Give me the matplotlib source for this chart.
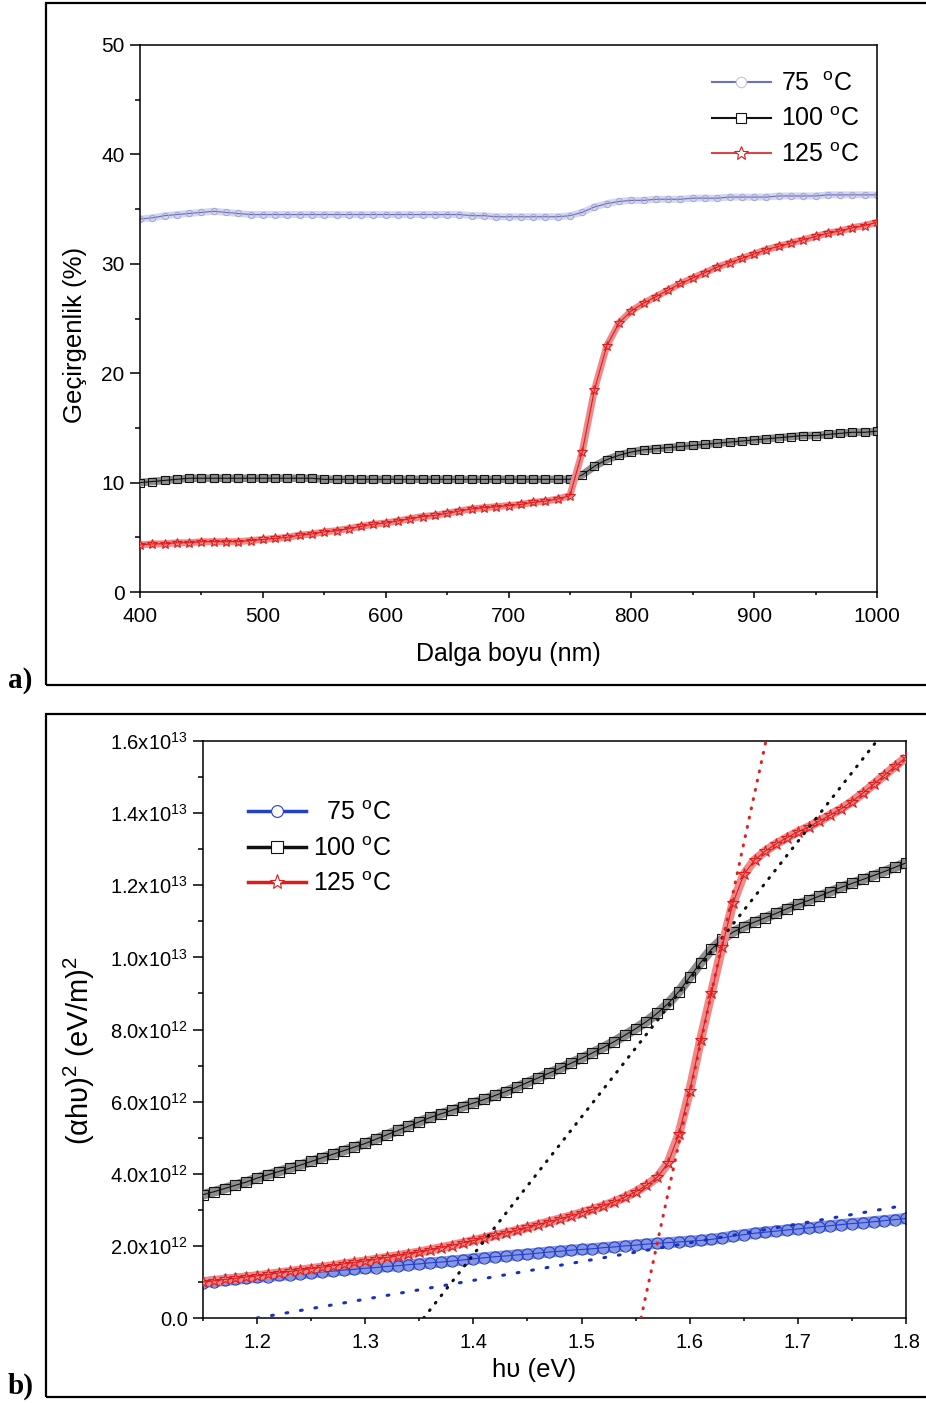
"""Transmittance spectra and Tauc plot of films annealed at 75, 100 and 125 C."""

import matplotlib

matplotlib.use("Agg")
import matplotlib.pyplot as plt
import numpy as np
from matplotlib.lines import Line2D
from matplotlib.patches import Rectangle
from matplotlib.ticker import FuncFormatter, MultipleLocator

FIG_W, FIG_H = 926, 1403

# (a) transmittance (%), 10 nm step
wavelength = np.arange(400, 1001, 10)
t_75 = [
    34.1, 34.2, 34.4, 34.5, 34.6, 34.7, 34.8, 34.7, 34.6, 34.5,
    34.5, 34.5, 34.5, 34.5, 34.5, 34.5, 34.5, 34.5, 34.5, 34.5,
    34.5, 34.5, 34.5, 34.5, 34.5, 34.5, 34.5, 34.4, 34.4, 34.3,
    34.3, 34.3, 34.3, 34.3, 34.3, 34.4, 34.7, 35.2, 35.5, 35.7,
    35.8, 35.8, 35.9, 35.9, 35.9, 36.0, 36.0, 36.0, 36.1, 36.1,
    36.1, 36.1, 36.2, 36.2, 36.2, 36.2, 36.3, 36.3, 36.3, 36.3,
    36.3,
]
t_100 = [
    10.0, 10.1, 10.2, 10.3, 10.4, 10.4, 10.4, 10.4, 10.4, 10.4,
    10.4, 10.4, 10.4, 10.4, 10.4, 10.3, 10.3, 10.3, 10.3, 10.3,
    10.3, 10.3, 10.3, 10.3, 10.3, 10.3, 10.3, 10.3, 10.3, 10.3,
    10.3, 10.3, 10.3, 10.3, 10.3, 10.3, 10.7, 11.5, 12.1, 12.5,
    12.8, 13.0, 13.1, 13.2, 13.3, 13.4, 13.5, 13.6, 13.7, 13.8,
    13.9, 14.0, 14.1, 14.2, 14.3, 14.3, 14.4, 14.5, 14.6, 14.6,
    14.7,
]
t_125 = [
    4.3, 4.4, 4.4, 4.5, 4.5, 4.6, 4.6, 4.6, 4.6, 4.7,
    4.8, 4.9, 5.0, 5.2, 5.3, 5.5, 5.6, 5.8, 6.0, 6.2,
    6.3, 6.5, 6.7, 6.9, 7.0, 7.2, 7.4, 7.6, 7.7, 7.8,
    7.9, 8.0, 8.2, 8.3, 8.5, 8.8, 12.8, 18.5, 22.5, 24.6,
    25.7, 26.4, 27.0, 27.6, 28.2, 28.7, 29.2, 29.7, 30.1, 30.5,
    30.9, 31.3, 31.6, 31.9, 32.2, 32.5, 32.8, 33.0, 33.3, 33.5,
    33.8,
]

# (b) (alpha h nu)^2 in units of 1e12 (eV/m)^2, 0.01 eV step
photon_energy = np.round(np.arange(1.15, 1.805, 0.01), 2)
tauc_75 = [
    0.98, 1.01, 1.04, 1.07, 1.10, 1.13, 1.15, 1.18, 1.20, 1.23,
    1.25, 1.28, 1.30, 1.33, 1.35, 1.38, 1.40, 1.43, 1.45, 1.48,
    1.50, 1.53, 1.55, 1.58, 1.61, 1.64, 1.67, 1.70, 1.72, 1.75,
    1.77, 1.80, 1.83, 1.85, 1.88, 1.90, 1.92, 1.95, 1.97, 2.00,
    2.02, 2.05, 2.07, 2.09, 2.11, 2.13, 2.15, 2.18, 2.22, 2.27,
    2.31, 2.35, 2.38, 2.41, 2.44, 2.47, 2.50, 2.53, 2.56, 2.59,
    2.62, 2.64, 2.67, 2.70, 2.73, 2.76,
]
tauc_100 = [
    3.42, 3.50, 3.59, 3.68, 3.77, 3.88, 3.97, 4.06, 4.15, 4.24,
    4.34, 4.44, 4.54, 4.64, 4.74, 4.84, 4.96, 5.08, 5.20, 5.32,
    5.44, 5.56, 5.66, 5.76, 5.86, 5.96, 6.06, 6.17, 6.28, 6.40,
    6.53, 6.66, 6.79, 6.92, 7.06, 7.20, 7.35, 7.50, 7.66, 7.84,
    8.02, 8.22, 8.45, 8.72, 9.05, 9.45, 9.85, 10.22, 10.50, 10.70,
    10.85, 10.98, 11.10, 11.22, 11.35, 11.47, 11.58, 11.70, 11.82, 11.94,
    12.05, 12.16, 12.27, 12.38, 12.50, 12.62,
]
tauc_125 = [
    1.00, 1.03, 1.07, 1.10, 1.14, 1.17, 1.21, 1.25, 1.29, 1.33,
    1.37, 1.41, 1.45, 1.50, 1.54, 1.58, 1.63, 1.68, 1.73, 1.78,
    1.83, 1.89, 1.95, 2.01, 2.08, 2.15, 2.22, 2.29, 2.36, 2.43,
    2.51, 2.59, 2.67, 2.75, 2.83, 2.92, 3.01, 3.11, 3.22, 3.35,
    3.50, 3.68, 3.90, 4.30, 5.10, 6.30, 7.70, 9.00, 10.30, 11.50,
    12.30, 12.70, 12.95, 13.15, 13.32, 13.48, 13.62, 13.78, 13.95, 14.12,
    14.32, 14.55, 14.80, 15.05, 15.30, 15.55,
]

# linear extrapolations to the energy axis (end points, 1e12 units)
fit_75_x, fit_75_y = [1.20, 1.80], [0.0, 3.13]
fit_100_x, fit_100_y = [1.354, 1.773], [0.0, 16.0]
fit_125_x, fit_125_y = [1.555, 1.6705], [0.0, 16.0]

LABELS_A = [r"75  $^\mathregular{o}$C", r"100 $^\mathregular{o}$C", r"125 $^\mathregular{o}$C"]
LABELS_B = [r"  75 $^\mathregular{o}$C", r"100 $^\mathregular{o}$C", r"125 $^\mathregular{o}$C"]


def configure_matplotlib() -> None:
    plt.rcParams["font.family"] = ["Liberation Sans", "DejaVu Sans"]
    plt.rcParams["mathtext.fontset"] = "custom"
    plt.rcParams["mathtext.rm"] = "Liberation Sans"
    plt.rcParams["mathtext.it"] = "Liberation Sans:italic"
    plt.rcParams["mathtext.bf"] = "Liberation Sans:bold"
    plt.rcParams["axes.linewidth"] = 1.1
    plt.rcParams["xtick.direction"] = "out"
    plt.rcParams["ytick.direction"] = "out"


def px_rect(left, top, right, bottom):
    return [left / FIG_W, 1 - bottom / FIG_H, (right - left) / FIG_W, (bottom - top) / FIG_H]


def style_axes(ax, labelsize) -> None:
    ax.tick_params(axis="both", which="both", width=1.1, labelsize=labelsize, top=False, right=False)
    ax.tick_params(axis="x", which="major", length=4.5, pad=6)
    ax.tick_params(axis="x", which="minor", length=2.5)
    ax.tick_params(axis="y", which="major", length=7, pad=4)
    ax.tick_params(axis="y", which="minor", length=3.5)


def draw_series(ax, x, y, band, band_lw, line, marker, ms, edge, z):
    # thick band under the open symbols mimics the densely sampled trace
    ax.plot(x, y, color=band, lw=band_lw, solid_capstyle="butt", solid_joinstyle="round", zorder=z)
    ax.plot(x, y, color=line, lw=0.8, marker=marker, ms=ms, mfc="none", mec=edge, mew=0.8, zorder=z + 0.1)


def legend_handle(line, marker, ms, edge, lw):
    return Line2D([], [], color=line, lw=lw, marker=marker, ms=ms, mfc="white", mec=edge, mew=0.8)


def plot_transmittance(fig) -> None:
    ax = fig.add_axes(px_rect(140, 45, 877, 592))
    draw_series(ax, wavelength, t_75, "#d3d6ee", 5.0, "#6a6ab8", "o", 4.5, "#a3a9d6", 2)
    draw_series(ax, wavelength, t_100, "#8c8c8c", 5.5, "#111111", "s", 5.5, "#111111", 3)
    draw_series(ax, wavelength, t_125, "#f08a8a", 5.0, "#e01b1b", "*", 7.5, "#e01b1b", 4)

    ax.set_xlim(400, 1000)
    ax.set_ylim(0, 50)
    ax.xaxis.set_major_locator(MultipleLocator(100))
    ax.xaxis.set_minor_locator(MultipleLocator(50))
    ax.yaxis.set_major_locator(MultipleLocator(10))
    ax.yaxis.set_minor_locator(MultipleLocator(5))
    style_axes(ax, 15)
    ax.set_xlabel("Dalga boyu (nm)", fontsize=18)
    ax.set_ylabel("Geçirgenlik (%)", fontsize=18.5)
    ax.xaxis.set_label_coords(0.5, -0.092)
    ax.yaxis.set_label_coords(-0.072, 0.47)

    handles = [
        legend_handle("#7070c0", "o", 7.5, "#c0c4e0", 1.5),
        legend_handle("#111111", "s", 7.5, "#111111", 1.5),
        legend_handle("#d84848", "*", 10, "#d02020", 1.5),
    ]
    ax.legend(
        handles, LABELS_A, loc="upper left", bbox_to_anchor=(712 / FIG_W, 1 - 72 / FIG_H),
        bbox_transform=fig.transFigure, frameon=False, fontsize=18, borderpad=0,
        borderaxespad=0, handlelength=2.35, handletextpad=0.4, labelspacing=0.46,
    )


def sci_label(value, pos):
    if abs(value) < 1:
        return "0.0"
    exponent = int(np.floor(np.log10(abs(value)) + 1e-9))
    mantissa = value / 10 ** exponent
    return rf"$\mathregular{{{mantissa:.1f}x10^{{{exponent}}}}}$"


def plot_tauc(fig) -> None:
    ax = fig.add_axes(px_rect(203, 741, 906, 1318))
    scale = 1e12
    draw_series(ax, photon_energy, np.array(tauc_75) * scale, "#8796e2", 8.0, "#2440c8", "o", 8, "#2440c8", 2)
    draw_series(ax, photon_energy, np.array(tauc_100) * scale, "#8e8e8e", 7.0, "#111111", "s", 7.5, "#111111", 3)
    draw_series(ax, photon_energy, np.array(tauc_125) * scale, "#f08a8a", 6.5, "#e01b1b", "*", 9, "#e01b1b", 4)

    ax.plot(fit_75_x, np.array(fit_75_y) * scale, color="#1a2fc0", lw=2.2,
            linestyle=(0, (0.6, 4.2)), dash_capstyle="round", zorder=6)
    ax.plot(fit_100_x, np.array(fit_100_y) * scale, color="#111111", lw=2.2,
            linestyle=(0, (0.3, 2.8)), dash_capstyle="round", zorder=6)
    ax.plot(fit_125_x, np.array(fit_125_y) * scale, color="#e02020", lw=2.2,
            linestyle=(0, (0.3, 2.8)), dash_capstyle="round", zorder=6)

    ax.set_xlim(1.15, 1.80)
    ax.set_ylim(0, 1.6e13)
    ax.xaxis.set_major_locator(MultipleLocator(0.1))
    ax.xaxis.set_minor_locator(MultipleLocator(0.05))
    ax.xaxis.set_major_formatter(FuncFormatter(lambda v, pos: f"{v:.1f}"))
    ax.yaxis.set_major_locator(MultipleLocator(2e12))
    ax.yaxis.set_minor_locator(MultipleLocator(1e12))
    ax.yaxis.set_major_formatter(FuncFormatter(sci_label))
    style_axes(ax, 14.5)
    ax.set_xlabel("hυ (eV)", fontsize=18.5)
    ax.set_ylabel(r"(αhυ)$^\mathregular{2}$ (eV/m)$^\mathregular{2}$", fontsize=21)
    ax.xaxis.set_label_coords(0.471, -0.07)
    ax.yaxis.set_label_coords(-0.151, 0.463)

    handles = [
        legend_handle("#2440c8", "o", 8.5, "#2440c8", 2.5),
        legend_handle("#111111", "s", 8.5, "#111111", 2.5),
        legend_handle("#e01b1b", "*", 11, "#e01b1b", 2.5),
    ]
    ax.legend(
        handles, LABELS_B, loc="upper left", bbox_to_anchor=(248 / FIG_W, 1 - 801 / FIG_H),
        bbox_transform=fig.transFigure, frameon=False, fontsize=18, borderpad=0,
        borderaxespad=0, handlelength=2.3, handletextpad=0.3, labelspacing=0.46,
    )


def draw_panel_frames(fig) -> None:
    for top, bottom, tag, baseline in [(2.5, 685, "a)", 688), (714, 1396.5, "b)", 1394)]:
        fig.add_artist(Rectangle(
            (46 / FIG_W, 1 - bottom / FIG_H), 1.2, (bottom - top) / FIG_H,
            transform=fig.transFigure, fill=False, lw=1.6, edgecolor="black", clip_on=False,
        ))
        fig.text(8 / FIG_W, 1 - baseline / FIG_H, tag, family="Liberation Serif",
                 fontweight="bold", fontsize=21, va="baseline", ha="left")


def main() -> None:
    configure_matplotlib()
    fig = plt.figure(figsize=(FIG_W / 100, FIG_H / 100), dpi=100)
    draw_panel_frames(fig)
    plot_transmittance(fig)
    plot_tauc(fig)
    fig.savefig("out.png", dpi=100)
    plt.close(fig)


if __name__ == "__main__":
    main()
